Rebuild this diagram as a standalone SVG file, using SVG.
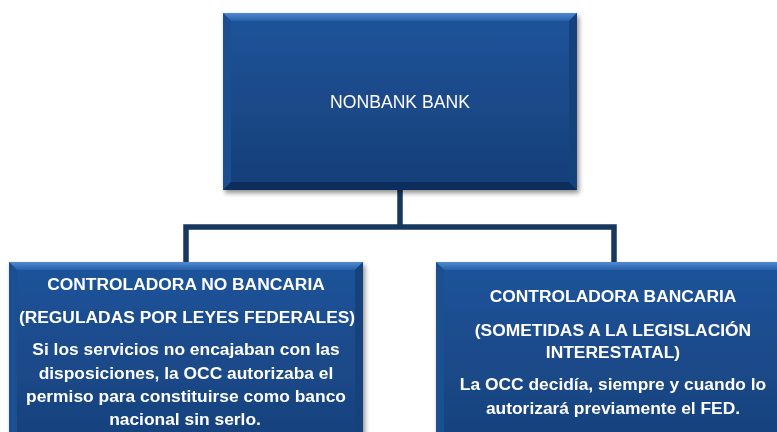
<svg xmlns="http://www.w3.org/2000/svg" width="777" height="432" viewBox="0 0 777 432">
<defs>
<linearGradient id="fill" x1="0" y1="0" x2="0" y2="1">
<stop offset="0" stop-color="#1E5399"/>
<stop offset="1" stop-color="#173F79"/>
</linearGradient>
<linearGradient id="topbev" x1="0" y1="0" x2="0" y2="1">
<stop offset="0" stop-color="#4F8AD2"/>
<stop offset="1" stop-color="#2860A8"/>
</linearGradient>
<filter id="sh" x="-10%" y="-10%" width="125%" height="130%">
<feGaussianBlur in="SourceAlpha" stdDeviation="2.5"/>
<feOffset dx="2" dy="3" result="b"/>
<feComponentTransfer><feFuncA type="linear" slope="0.45"/></feComponentTransfer>
<feMerge><feMergeNode/><feMergeNode in="SourceGraphic"/></feMerge>
</filter>
<style>
.main{fill:url(#fill)}
.bt{fill:url(#topbev)}
.bl{fill:#1D4F90}
.br{fill:#15427C}
.bb{fill:#102F5C}
.conn{fill:none;stroke:#17375E;stroke-width:5.5}
text{font-family:"Liberation Sans",Arial,sans-serif;fill:#FFFFFF;text-anchor:middle}
.b{font-weight:bold;font-size:17.4px}
</style>
</defs>
<rect width="777" height="432" fill="#FFFFFF"/>
<g id="connectors">
<path class="conn" d="M400 190 V227"/>
<path class="conn" d="M186 262 V227 H614 V262"/>
</g>
<g id="node-top" filter="url(#sh)">
<rect class="main" x="223" y="13" width="354" height="177"/>
<polygon class="bt" points="223,13 577,13 569,21 231,21"/>
<polygon class="bl" points="223,13 231,21 231,182 223,190"/>
<polygon class="br" points="577,13 577,190 569,182 569,21"/>
<polygon class="bb" points="223,190 231,182 569,182 577,190"/>
<rect x="231" y="21" width="338" height="161" fill="url(#fill)"/>
<text x="400" y="108" font-size="17.6">NONBANK BANK</text>
</g>
<g id="node-left" filter="url(#sh)">
<rect class="main" x="9" y="262" width="354" height="200"/>
<polygon class="bt" points="9,262 363,262 355,270 17,270"/>
<polygon class="bl" points="9,262 17,270 17,462 9,462"/>
<polygon class="br" points="363,262 363,462 355,462 355,270"/>
<rect x="17" y="270" width="338" height="192" fill="url(#fill)"/>
<text class="b" x="186" y="290">CONTROLADORA NO BANCARIA</text>
<text class="b" x="187" y="323">(REGULADAS POR LEYES FEDERALES)</text>
<text class="b" x="186" y="355">Si los servicios no encajaban con las</text>
<text class="b" x="186" y="379">disposiciones, la OCC autorizaba el</text>
<text class="b" x="186" y="402">permiso para constituirse como banco</text>
<text class="b" x="185" y="425">nacional sin serlo.</text>
</g>
<g id="node-right" filter="url(#sh)">
<rect class="main" x="436" y="262" width="354" height="200"/>
<polygon class="bt" points="436,262 790,262 782,270 444,270"/>
<polygon class="bl" points="436,262 444,270 444,462 436,462"/>
<rect x="444" y="270" width="338" height="192" fill="url(#fill)"/>
<text class="b" x="613" y="302">CONTROLADORA BANCARIA</text>
<text class="b" x="613" y="336">(SOMETIDAS A LA LEGISLACIÓN</text>
<text class="b" x="613" y="358">INTERESTATAL)</text>
<text class="b" x="613" y="390">La OCC decidía, siempre y cuando lo</text>
<text class="b" x="613" y="414">autorizará previamente el FED.</text>
</g>
</svg>
